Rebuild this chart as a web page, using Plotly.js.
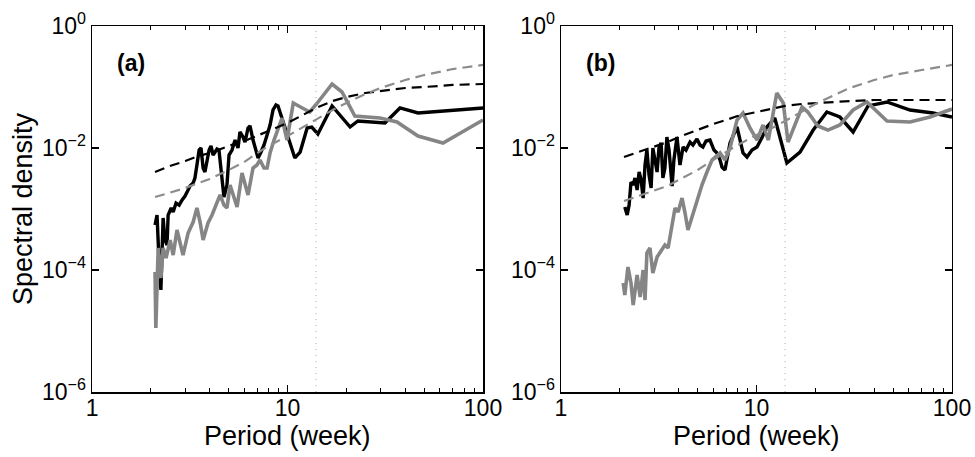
<!DOCTYPE html>
<html>
<head>
<meta charset="utf-8">
<script src="https://cdn.plot.ly/plotly-3.0.1.min.js"></script>
<style>html,body{margin:0;padding:0;background:#fff;}#chart{width:975px;height:457px;}</style>
</head>
<body>
<div id="chart"></div>
<script>
// ---------- Panel (a) ----------
const aBlackPeriod = [2.10,2.15,2.20,2.25,2.31,2.36,2.42,2.45,2.54,2.60,2.69,2.79,2.89,2.99,3.10,3.17,3.29,3.36,3.44,3.53,3.61,3.70,3.78,3.88,3.97,4.06,4.16,4.26,4.36,4.46,4.57,4.73,4.90,5.02,5.20,5.39,5.58,5.71,5.92,6.06,6.28,6.43,6.66,6.90,7.07,7.32,7.58,7.86,8.14,8.43,8.73,8.94,9.26,9.60,9.94,10.4,10.9,11.6,12.1,12.6,13.3,14.3,16.9,20.9,22.9,31.5,37.6,46.5,100];
const aBlackDensity = [5.47e-4,7.97e-4,1.46e-4,4.70e-5,7.12e-4,3.10e-4,2.57e-4,7.97e-4,1.04e-3,8.93e-4,1.25e-3,1.16e-3,1.41e-3,1.63e-3,2.05e-3,2.38e-3,2.67e-3,3.22e-3,5.26e-3,9.27e-3,1.00e-2,4.70e-3,4.04e-3,6.86e-3,9.27e-3,1.08e-2,7.68e-3,8.59e-3,9.64e-3,9.27e-3,4.36e-3,1.57e-3,2.47e-3,7.68e-3,9.27e-3,1.35e-2,1.00e-2,1.83e-2,1.51e-2,1.25e-2,2.13e-2,2.30e-2,1.35e-2,9.27e-3,6.86e-3,8.59e-3,1.12e-2,1.63e-2,2.38e-2,4.20e-2,5.07e-2,4.89e-2,3.48e-2,2.38e-2,1.63e-2,1.12e-2,6.86e-3,8.59e-3,1.35e-2,2.13e-2,2.21e-2,1.70e-2,4.89e-2,2.21e-2,2.77e-2,2.57e-2,4.53e-2,3.75e-2,4.53e-2];

const aGrayPeriod = [2.10,2.12,2.18,2.25,2.31,2.39,2.51,2.60,2.72,2.82,2.92,3.10,3.29,3.44,3.57,3.70,3.92,4.11,4.31,4.52,4.73,4.90,5.08,5.26,5.52,5.85,6.06,6.28,6.66,6.98,7.23,7.58,7.86,8.14,8.53,8.84,9.37,9.94,10.7,11.9,13.0,14.2,16.9,19.0,22.1,29.7,36.3,46.5,62.4,100];
const aGrayDensity = [9.27e-5,1.12e-5,2.30e-4,7.40e-5,2.30e-4,1.57e-4,3.10e-4,1.76e-4,4.53e-4,2.88e-4,1.76e-4,4.04e-4,6.12e-4,1.04e-3,6.12e-4,3.10e-4,5.89e-4,7.97e-4,1.16e-3,1.70e-3,1.16e-3,1.04e-3,2.47e-3,1.70e-3,1.08e-3,3.89e-3,2.47e-3,1.70e-3,4.70e-3,5.26e-3,6.36e-3,4.70e-3,4.70e-3,8.28e-3,1.35e-2,1.83e-2,3.10e-2,1.35e-2,5.47e-2,4.53e-2,3.89e-2,5.47e-2,0.112,8.28e-2,3.35e-2,3.10e-2,2.67e-2,1.57e-2,1.21e-2,2.88e-2];

const fitPeriod = [2.1,2.5,3,3.5,4,5,6,7,8,10,12,14,17,20,25,30,40,50,70,100];
const aBlackFit = [4.04e-3,5.07e-3,6.12e-3,7.39e-3,8.28e-3,1.08e-2,1.30e-2,1.57e-2,1.90e-2,2.57e-2,3.48e-2,4.53e-2,5.89e-2,6.86e-2,7.97e-2,8.59e-2,9.64e-2,0.100,0.108,0.112];
const aGrayFit  = [1.57e-3,1.83e-3,2.21e-3,2.67e-3,3.10e-3,4.36e-3,5.89e-3,8.28e-3,1.08e-2,1.57e-2,2.21e-2,2.99e-2,4.20e-2,5.47e-2,7.68e-2,9.64e-2,0.130,0.157,0.197,0.230];

// ---------- Panel (b) ----------
const bBlackPeriod = [2.12,2.18,2.23,2.28,2.34,2.39,2.45,2.51,2.57,2.63,2.69,2.75,2.82,2.89,2.95,3.03,3.10,3.17,3.25,3.32,3.40,3.48,3.57,3.70,3.78,3.92,4.06,4.21,4.36,4.57,4.73,4.96,5.14,5.32,5.52,5.78,6.06,6.28,6.51,6.66,6.90,7.32,7.95,8.53,8.94,9.48,10.06,10.7,11.3,12.4,14.3,16.7,19.5,22.9,26.7,31.2,37.2,46.5,61.0,80.0,100];
const bBlackDensity = [1.08e-3,7.97e-4,1.16e-3,2.77e-3,2.47e-3,3.22e-3,2.05e-3,4.04e-3,2.99e-3,1.51e-3,5.26e-3,9.27e-3,3.61e-3,2.21e-3,1.00e-2,6.36e-3,4.04e-3,1.00e-2,1.21e-2,3.22e-3,4.70e-3,1.51e-2,9.27e-3,2.38e-3,6.36e-3,1.51e-2,5.26e-3,1.04e-2,9.27e-3,1.25e-2,1.12e-2,1.41e-2,1.12e-2,1.04e-2,1.30e-2,1.35e-2,9.27e-3,8.28e-3,6.36e-3,4.88e-3,4.36e-3,1.21e-2,2.21e-2,8.28e-3,7.12e-3,9.27e-3,1.04e-2,1.51e-2,2.21e-2,3.10e-2,5.68e-3,8.59e-3,1.97e-2,3.89e-2,3.22e-2,1.83e-2,4.89e-2,5.68e-2,4.20e-2,3.75e-2,3.22e-2];

const bGrayPeriod = [2.08,2.12,2.20,2.28,2.34,2.45,2.54,2.63,2.69,2.75,2.85,2.95,3.10,3.29,3.40,3.53,3.65,3.83,3.97,4.16,4.31,4.46,4.68,4.96,5.26,5.58,5.92,6.51,6.90,7.32,7.95,8.53,9.26,10.06,10.8,11.5,12.7,13.7,14.5,17.1,18.3,20.6,23.2,26.7,31.2,36.7,46.5,61.0,77.2,100];
const bGrayDensity = [6.12e-5,3.89e-5,1.12e-4,6.12e-5,2.67e-5,8.28e-5,3.61e-5,1.00e-4,3.22e-5,1.90e-4,2.30e-4,8.93e-5,1.63e-4,2.13e-4,2.57e-4,2.30e-4,4.20e-4,1.04e-3,8.93e-4,1.51e-3,8.59e-4,4.53e-4,7.39e-4,1.41e-3,2.47e-3,4.04e-3,6.36e-3,8.28e-3,6.36e-3,1.00e-2,2.88e-2,3.75e-2,2.13e-2,1.35e-2,2.38e-2,1.35e-2,7.97e-2,5.47e-2,1.25e-2,4.70e-2,3.89e-2,2.30e-2,1.97e-2,2.38e-2,4.20e-2,5.68e-2,2.77e-2,2.67e-2,3.22e-2,4.36e-2];

const bBlackFit = [7.12e-3,8.59e-3,1.04e-2,1.25e-2,1.51e-2,1.97e-2,2.47e-2,2.88e-2,3.35e-2,3.89e-2,4.36e-2,4.89e-2,5.26e-2,5.47e-2,5.78e-2,5.89e-2,6.12e-2,6.12e-2,6.12e-2,6.12e-2];
const bGrayFit  = [1.35e-3,1.63e-3,1.97e-3,2.38e-3,2.99e-3,4.36e-3,6.36e-3,8.59e-3,1.12e-2,1.63e-2,2.13e-2,2.77e-2,3.89e-2,5.26e-2,7.39e-2,9.64e-2,0.130,0.157,0.190,0.230];

const cutoffPeriod = 14;
const xTickVals = [1,10,100];
const xTickText = ['1','10','100'];
const xMinorVals = [2,3,4,5,6,7,8,9,20,30,40,50,60,70,80,90];
const yTickVals = [1e-6,1e-4,1e-2,1];
const yTickText = ['10<sup>\u22126</sup>','10<sup>\u22124</sup>','10<sup>\u22122</sup>','10<sup>0</sup>'];
const yRange = [1e-6, 1];

const FONT = 'Liberation Sans, Arial, Helvetica, sans-serif';
const GRAY = '#858585';
const DOM_A = [0.0944, 0.4954];
const DOM_B = [0.5754, 0.9764];
const DOM_Y = [0.1422, 0.9431];

function panelTraces(xa, ya, bp, bd, gp, gd, bf, gf) {
  return [
    {x: bp, y: bd, xaxis: xa, yaxis: ya, mode: 'lines', line: {color: '#000', width: 3.4}, hoverinfo: 'skip'},
    {x: gp, y: gd, xaxis: xa, yaxis: ya, mode: 'lines', line: {color: GRAY, width: 3.6}, hoverinfo: 'skip'},
    {x: fitPeriod, y: bf, xaxis: xa, yaxis: ya, mode: 'lines', line: {color: '#000', width: 2.2, dash: '10px,6px'}, hoverinfo: 'skip'},
    {x: fitPeriod, y: gf, xaxis: xa, yaxis: ya, mode: 'lines', line: {color: '#8c8c8c', width: 2.2, dash: '10px,6px'}, hoverinfo: 'skip'},
    {x: [cutoffPeriod, cutoffPeriod], y: yRange, xaxis: xa, yaxis: ya, mode: 'lines', line: {color: '#aaaaaa', width: 1, dash: '1px,5px'}, hoverinfo: 'skip'}
  ];
}

const data = [].concat(
  panelTraces('x', 'y', aBlackPeriod, aBlackDensity, aGrayPeriod, aGrayDensity, aBlackFit, aGrayFit),
  panelTraces('x2', 'y2', bBlackPeriod, bBlackDensity, bGrayPeriod, bGrayDensity, bBlackFit, bGrayFit),
  // invisible carriers for the minor-tick overlay axes
  [{x: [1, 100], y: yRange, xaxis: 'x3', yaxis: 'y', mode: 'lines', line: {width: 0}, opacity: 0, hoverinfo: 'skip'},
   {x: [1, 100], y: yRange, xaxis: 'x4', yaxis: 'y2', mode: 'lines', line: {width: 0}, opacity: 0, hoverinfo: 'skip'}]
);

function xAxis(domain, anchor) {
  return {
    type: 'log', range: [0, 2], domain: domain, anchor: anchor,
    tickmode: 'array', tickvals: xTickVals, ticktext: xTickText,
    ticks: 'inside', ticklen: 7, tickwidth: 1.2, tickcolor: '#000',
    ticklabelstandoff: -5,
    showline: true, linecolor: '#000', linewidth: 1.5, mirror: 'ticks',
    showgrid: false, zeroline: false,
    tickfont: {family: FONT, size: 23, color: '#000'}
  };
}
function xMinorAxis(domain, over, anchor) {
  return {
    type: 'log', range: [0, 2], domain: domain, anchor: anchor, overlaying: over,
    tickmode: 'array', tickvals: xMinorVals, showticklabels: false,
    ticks: 'inside', ticklen: 4, tickwidth: 1, tickcolor: '#000',
    showline: true, linecolor: '#000', linewidth: 1.5, mirror: 'ticks',
    showgrid: false, zeroline: false
  };
}
function yAxis(anchor) {
  return {
    type: 'log', range: [-6, 0], domain: DOM_Y, anchor: anchor,
    tickmode: 'array', tickvals: yTickVals, ticktext: yTickText,
    ticks: 'inside', ticklen: 7, tickwidth: 1.2, tickcolor: '#000',
    showline: true, linecolor: '#000', linewidth: 1.5, mirror: 'ticks',
    showgrid: false, zeroline: false,
    tickfont: {family: FONT, size: 23, color: '#000'}
  };
}

const layout = {
  width: 975, height: 457,
  margin: {l: 0, r: 0, t: 0, b: 0},
  paper_bgcolor: '#fff', plot_bgcolor: '#fff',
  showlegend: false,
  xaxis: xAxis(DOM_A, 'y'),
  yaxis: yAxis('x'),
  xaxis2: xAxis(DOM_B, 'y2'),
  yaxis2: yAxis('x2'),
  xaxis3: xMinorAxis(DOM_A, 'x', 'y'),
  xaxis4: xMinorAxis(DOM_B, 'x2', 'y2'),
  annotations: [
    {text: 'Spectral density', xref: 'paper', yref: 'paper', x: 0.0236, y: 0.5427, textangle: -90, showarrow: false, xanchor: 'center', yanchor: 'middle', font: {family: FONT, size: 27, color: '#000'}},
    {text: 'Period (week)', xref: 'paper', yref: 'paper', x: 0.2949, y: 0.046, showarrow: false, xanchor: 'center', yanchor: 'middle', font: {family: FONT, size: 27, color: '#000'}},
    {text: 'Period (week)', xref: 'paper', yref: 'paper', x: 0.7759, y: 0.046, showarrow: false, xanchor: 'center', yanchor: 'middle', font: {family: FONT, size: 27, color: '#000'}},
    {text: '<b>(a)</b>', xref: 'paper', yref: 'paper', x: 0.1344, y: 0.8621, showarrow: false, xanchor: 'center', yanchor: 'middle', font: {family: FONT, size: 23, color: '#000'}},
    {text: '<b>(b)</b>', xref: 'paper', yref: 'paper', x: 0.6154, y: 0.8621, showarrow: false, xanchor: 'center', yanchor: 'middle', font: {family: FONT, size: 23, color: '#000'}}
  ]
};

Plotly.newPlot('chart', data, layout, {displayModeBar: false, staticPlot: true});
</script>
</body>
</html>
